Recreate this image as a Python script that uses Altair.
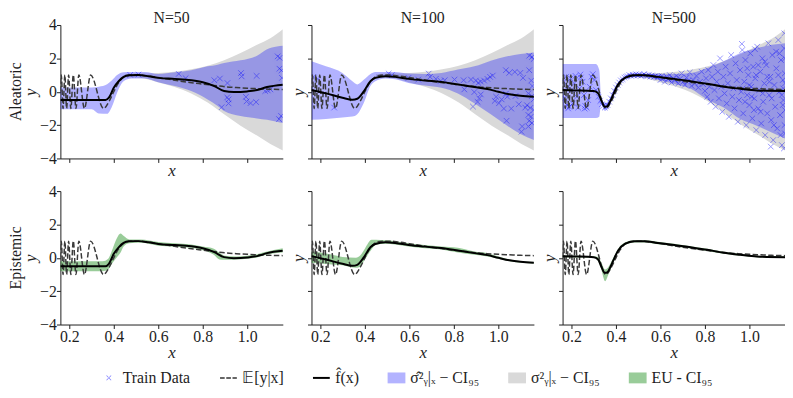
import altair as alt
import pandas as pd

# ---------------- data ----------------
# true regression function E[y|x] (dashed)
true_x = [0.160, 0.164, 0.172, 0.180, 0.188, 0.197, 0.207, 0.218, 0.230, 0.243, 0.268, 0.296, 0.354,
          0.380, 0.400, 0.420, 0.440, 0.460, 0.480, 0.510, 0.550, 0.600, 0.650, 0.700, 0.750, 0.800,
          0.850, 0.900, 0.950, 1.000, 1.050, 1.100, 1.160]
true_y = [0.0, 1.0, -1.0, 1.0, -1.0, 1.0, -1.0, 1.0, -1.0, 1.0, -1.0, 1.0, -1.0,
          -0.55, 0.0, 0.5, 0.82, 0.96, 1.0, 1.0, 0.95, 0.85, 0.74, 0.63, 0.54, 0.46,
          0.38, 0.30, 0.25, 0.21, 0.18, 0.15, 0.13]

# true noise CI (grey), same for every N
grey_x = [0.45, 0.50, 0.55, 0.60, 0.67, 0.748, 0.822, 0.896, 0.97, 1.044, 1.104, 1.16]
grey_lo = [0.85, 0.85, 0.75, 0.55, 0.30, -0.10, -0.65, -1.35, -2.04, -2.63, -3.13, -3.52]
grey_hi = [1.05, 1.10, 1.10, 1.12, 1.20, 1.35, 1.56, 1.88, 2.32, 2.81, 3.20, 3.74]

# fitted mean f_hat(x)
f50_x = [0.16, 0.25, 0.363, 0.378, 0.40, 0.422, 0.444, 0.467, 0.511, 0.556, 0.60, 0.674, 0.748, 0.80,
         0.852, 0.896, 0.94, 1.0, 1.044, 1.089, 1.16]
f50_y = [-0.5, -0.5, -0.5, -0.36, 0.24, 0.63, 0.89, 0.99, 1.0, 0.93, 0.83, 0.77, 0.69, 0.57,
         0.34, 0.04, -0.02, 0.02, 0.1, 0.28, 0.42]
f100_x = [0.16, 0.225, 0.299, 0.344, 0.366, 0.396, 0.425, 0.447, 0.492, 0.536, 0.596, 0.67, 0.744,
          0.818, 0.892, 0.951, 1.0, 1.05, 1.10, 1.16]
f100_y = [0.1, -0.1, -0.36, -0.48, -0.42, 0.04, 0.63, 0.83, 0.93, 0.89, 0.77, 0.67, 0.59,
          0.44, 0.28, 0.16, 0.0, -0.15, -0.24, -0.3]
f500_x = [0.16, 0.218, 0.30, 0.32, 0.335, 0.35, 0.36, 0.375, 0.388, 0.41, 0.44, 0.484, 0.529, 0.588,
          0.662, 0.736, 0.81, 0.884, 0.959, 1.033, 1.16]
f500_y = [0.1, 0.08, 0.04, -0.1, -0.55, -0.9, -0.88, -0.55, -0.16, 0.44, 0.83, 0.99, 0.99, 0.89,
          0.77, 0.63, 0.48, 0.3, 0.18, 0.08, 0.04]

# predicted aleatoric CI (blue)
b50_x = [0.16, 0.30, 0.333, 0.37, 0.393, 0.415, 0.444, 0.48, 0.54, 0.60, 0.674, 0.748, 0.822, 0.867,
         0.896, 0.97, 1.044, 1.089, 1.133, 1.16]
b50_lo = [-1.05, -1.05, -1.3, -1.32, -0.85, -0.06, 0.63, 0.8, 0.8, 0.57, 0.34, 0.04, -0.46, -0.85,
          -1.15, -1.45, -1.6, -1.68, -1.8, -1.88]
b50_hi = [0.25, 0.25, 0.3, 0.45, 0.7, 1.0, 1.17, 1.19, 1.19, 1.07, 1.17, 1.29, 1.52, 1.62,
          1.72, 1.88, 2.16, 2.55, 2.71, 2.75]
b100_x = [0.16, 0.225, 0.299, 0.344, 0.366, 0.396, 0.425, 0.447, 0.492, 0.536, 0.596, 0.67, 0.744,
          0.818, 0.892, 0.966, 1.04, 1.099, 1.16]
b100_lo = [-1.68, -1.64, -1.54, -1.49, -1.35, -0.65, 0.34, 0.63, 0.79, 0.75, 0.53, 0.38, 0.24,
           -0.1, -0.69, -1.35, -2.04, -2.53, -2.9]
b100_hi = [1.82, 1.52, 1.13, 0.63, 0.44, 0.73, 1.07, 1.19, 1.19, 1.19, 1.1, 1.07, 1.13,
           1.33, 1.52, 1.86, 2.12, 2.26, 2.35]
b500_x = [0.16, 0.31, 0.325, 0.333, 0.351, 0.366, 0.388, 0.41, 0.44, 0.484, 0.529, 0.588, 0.662,
          0.736, 0.81, 0.884, 0.959, 1.033, 1.10, 1.16]
b500_lo = [-1.58, -1.58, -1.5, -0.75, -1.15, -0.95, -0.35, 0.3, 0.72, 0.9, 0.9, 0.72, 0.47,
           0.18, -0.46, -0.95, -1.64, -2.04, -2.44, -2.8]
b500_hi = [1.66, 1.66, 1.3, -0.3, -0.68, -0.55, 0.05, 0.58, 0.95, 1.08, 1.08, 1.05, 1.07,
           1.13, 1.43, 1.82, 2.32, 2.61, 2.81, 2.91]

# epistemic CI (green)
g50_x = [0.16, 0.35, 0.375, 0.395, 0.415, 0.43, 0.445, 0.47, 0.52, 0.60, 0.674, 0.748, 0.80, 0.85,
         0.875, 0.90, 0.95, 1.0, 1.044, 1.09, 1.16]
g50_lo = [-0.8, -0.8, -0.7, -0.3, 0.05, 0.3, 0.7, 0.88, 0.9, 0.73, 0.67, 0.6, 0.45, 0.18,
          -0.1, -0.12, -0.1, -0.05, 0.02, 0.2, 0.32]
g50_hi = [-0.2, -0.2, -0.05, 0.55, 1.2, 1.45, 1.3, 1.1, 1.1, 0.95, 0.88, 0.8, 0.68, 0.55,
          0.3, 0.12, 0.08, 0.12, 0.22, 0.38, 0.58]
g100_x = [0.16, 0.25, 0.30, 0.36, 0.38, 0.40, 0.43, 0.45, 0.492, 0.536, 0.596, 0.67, 0.744, 0.818,
          0.892, 0.951, 1.0, 1.05, 1.16]
g100_lo = [-0.3, -0.4, -0.45, -0.6, -0.5, -0.1, 0.5, 0.8, 0.85, 0.8, 0.68, 0.58, 0.5, 0.32,
           0.18, 0.08, -0.05, -0.2, -0.34]
g100_hi = [0.4, 0.2, 0.05, 0.0, 0.15, 0.55, 1.08, 1.08, 1.05, 1.0, 0.88, 0.77, 0.68, 0.6,
           0.38, 0.28, 0.08, -0.1, -0.25]
g500_x = [0.16, 0.30, 0.32, 0.335, 0.351, 0.366, 0.388, 0.41, 0.44, 0.484, 0.529, 0.588, 0.662,
          0.736, 0.81, 0.884, 0.959, 1.033, 1.16]
g500_lo = [0.02, 0.0, -0.2, -0.75, -1.4, -1.0, -0.3, 0.35, 0.75, 0.92, 0.92, 0.82, 0.7,
           0.56, 0.41, 0.24, 0.12, 0.03, -0.01]
g500_hi = [0.14, 0.1, 0.05, -0.3, -0.7, -0.55, 0.0, 0.55, 0.92, 1.05, 1.05, 0.96, 0.84,
           0.7, 0.55, 0.36, 0.24, 0.13, 0.09]

# training data
tr50_x = [0.474, 0.511, 0.692, 0.723, 0.852, 0.877, 0.911, 0.972, 0.975, 1.042, 0.91, 0.916, 0.916,
          0.885, 0.994, 0.997, 1.015, 1.04, 1.137, 1.146, 1.145, 1.154, 1.156, 1.143, 1.152, 1.104,
          1.081, 1.092]
tr50_y = [1.01, 1.03, 1.07, 0.81, 0.69, 0.79, 0.52, 1.12, 0.92, 0.95, -0.34, -0.46, -0.7,
          -0.93, -0.31, -0.58, -0.68, -0.62, 2.12, 2.03, 1.38, 1.28, 0.83, -1.64, -1.45, 0.14,
          0.04, 0.08]
tr100_x = [0.169, 0.188, 0.262, 0.507, 0.521, 0.596, 0.64, 0.687, 0.693, 0.719, 0.741, 0.759, 0.803,
           0.844, 0.847, 0.877, 0.899, 0.91, 0.921, 0.936, 0.951, 0.963, 0.975, 0.892, 0.886,
           0.907, 0.914, 0.984, 0.99, 1.003, 1.015, 1.025, 1.034, 1.04, 1.058, 1.034, 1.049,
           1.074, 1.099, 1.111, 1.139, 1.148, 1.153, 1.135, 1.151, 1.159, 1.129, 1.144, 1.159,
           1.135, 1.147, 1.139, 1.151, 1.135, 1.107, 1.104, 1.037, 1.139, 1.151, 1.159, 1.121,
           1.092, 1.077, 0.921]
tr100_y = [0.89, 0.77, -0.95, 1.09, 0.99, 0.83, 0.73, 1.09, 0.89, 0.77, 0.65, 0.69, 0.73,
           0.69, 0.14, 0.73, 0.67, 0.53, 0.61, 0.67, 0.77, 0.89, 0.97, -0.02, -0.89,
           -0.61, -0.4, -0.55, -0.3, -0.69, -0.46, -1.01, -0.12, -0.3, -1.01, 1.29, 1.13,
           1.19, 1.13, 0.83, 1.29, 0.67, 0.34, -0.1, -0.26, -0.46, -0.81, -0.97, -1.09,
           -1.39, -1.49, -1.74, -1.88, -2.08, -2.08, -2.4, -1.74, 2.16, 2.08, 1.96, -0.95,
           -0.75, -0.26, -0.16]
tr500_x = [0.165, 0.17, 0.176, 0.18, 0.185, 0.186, 0.19, 0.196, 0.2, 0.206, 0.212, 0.218, 0.224, 0.23,
           0.236, 0.24, 0.242, 0.25, 0.256, 0.259, 0.262, 0.268, 0.275, 0.282, 0.29, 0.296, 0.303,
           0.31,
           0.322, 0.33, 0.337, 0.343, 0.35, 0.356, 0.362, 0.37, 0.377, 0.385, 0.392, 0.4, 0.408,
           0.415, 0.422, 0.43, 0.438, 0.445,
           0.452, 0.46, 0.468, 0.475, 0.482, 0.49, 0.498, 0.505, 0.512, 0.52, 0.527, 0.534, 0.54,
           0.548, 0.555, 0.562, 0.57, 0.578, 0.585, 0.592,
           0.6, 0.606, 0.612, 0.62, 0.628, 0.635, 0.642, 0.65, 0.657, 0.665, 0.672, 0.68, 0.688,
           0.695, 0.702, 0.71, 0.718, 0.725, 0.732, 0.74, 0.748, 0.755, 0.762, 0.77, 0.778, 0.785,
           0.792, 0.8,
           0.805, 0.81, 0.815, 0.82, 0.826, 0.832, 0.838, 0.843, 0.848, 0.853, 0.858, 0.863, 0.868,
           0.873, 0.878, 0.883, 0.888, 0.893, 0.898, 0.903, 0.908, 0.913, 0.918, 0.923, 0.928,
           0.933, 0.938, 0.943, 0.948, 0.953, 0.958, 0.963,
           0.968, 0.972, 0.977, 0.982, 0.986, 0.99, 0.995, 1.0, 1.004, 1.008, 1.013, 1.017, 1.022,
           1.026, 1.031, 1.035, 1.04, 1.044, 1.049, 1.053, 1.058, 1.062, 1.067, 1.071, 1.076, 1.08,
           1.085, 1.089, 1.094, 1.098, 1.103, 1.107, 1.112, 1.116, 1.121, 1.125, 1.13, 1.134,
           1.138, 1.142, 1.146, 1.15, 1.153, 1.156, 1.158, 1.159, 1.16, 1.157, 1.155, 1.152,
           0.966, 1.096, 1.025,
           0.97, 0.99, 1.01, 1.03, 1.05, 1.07, 1.09, 1.11, 1.13, 1.15, 1.12, 1.1, 1.08, 1.06, 1.04,
           1.02, 1.0, 0.98, 1.14, 1.16, 1.16, 1.16, 1.135, 1.145]
tr500_y = [0.6, -0.4, 0.9, -0.8, -1.0, 0.3, -0.9, 0.8, 0.1, -0.7, 0.5, 0.95, -0.3, -0.95,
           0.2, 1.03, 0.85, 0.6, -0.2, -1.01, -0.85, -0.95, -0.5, 0.3, 0.9, 1.05, 0.7,
           0.1,
           -0.3, -0.55, -0.75, -0.85, -0.95, -0.88, -0.8, -0.6, -0.4, -0.2, 0.05, 0.25, 0.4,
           0.55, 0.68, 0.75, 0.85, 0.9,
           0.93, 1.0, 0.95, 1.02, 0.97, 1.05, 0.98, 1.03, 0.95, 1.0, 1.06, 0.97, 0.92,
           1.02, 0.9, 0.98, 0.88, 0.95, 0.85, 0.92,
           0.7, 0.95, 0.8, 0.6, 0.9, 0.75, 1.0, 0.55, 0.8, 0.68, 0.95, 0.5, 0.78,
           1.1, 0.6, 0.42, 0.85, 0.65, 1.15, 0.35, 0.7, 0.5, 0.95, 0.25, 0.6, 1.2,
           0.45, 0.05,
           0.8, -0.3, 1.3, 0.3, -0.6, 0.9, 1.6, 0.1, -0.9, 0.6, 1.2, -0.4, 2.0,
           0.3, -1.2, 0.9, -0.1, 1.5, -0.7, 0.5, -1.5, 1.1, 2.2, -0.3, 0.2,
           -1.0, 1.7, 0.7, -1.8, -0.5, 1.3, 0.0,
           2.5, -1.3, 0.6, 1.9, -2.0, -0.2, 1.0, -0.8, 2.3, 0.3, -1.6, 1.5, -0.4,
           0.8, -2.3, 2.7, -1.0, 0.1, 1.2, -1.9, 2.0, -0.6, 0.5, -2.6, 1.6, -1.3,
           2.9, -0.2, 0.9, -1.7, 2.2, -2.9, 0.4, -0.9, 1.4, -2.2, 3.1, 0.0,
           -1.4, 1.9, -3.2, 0.7, -0.5, 2.6, -2.0, 1.1, -1.1, 3.5, -3.4, 0.2,
           2.87, -3.29, 2.55,
           0.2, 1.4, -0.3, 1.0, -1.2, 1.8, 0.6, -2.0, 1.0, -0.8, 2.4, -0.4, 0.9, -0.1, 1.6,
           -1.1, 0.4, -0.6, -2.6, 0.5, 2.0, -2.5, 2.3, -0.2]

n_labels = ["N=50", "N=100", "N=500"]
row_labels = ["Aleatoric", "Epistemic"]
x_ticks = [0.2, 0.4, 0.6, 0.8, 1.0]
y_ticks = [-4, -2, 0, 2, 4]

legend_labels = ["Train Data", "𝔼[y|x]", "f̂(x)", "σ̂²ᵧ|ₓ − CI₉₅", "σ²ᵧ|ₓ − CI₉₅", "EU - CI₉₅"]

fits = {"N=50": (f50_x, f50_y), "N=100": (f100_x, f100_y), "N=500": (f500_x, f500_y)}
blues = {"N=50": (b50_x, b50_lo, b50_hi), "N=100": (b100_x, b100_lo, b100_hi),
         "N=500": (b500_x, b500_lo, b500_hi)}
greens = {"N=50": (g50_x, g50_lo, g50_hi), "N=100": (g100_x, g100_lo, g100_hi),
          "N=500": (g500_x, g500_lo, g500_hi)}
trains = {"N=50": (tr50_x, tr50_y), "N=100": (tr100_x, tr100_y), "N=500": (tr500_x, tr500_y)}

# ---------------- styling ----------------
FONT = "Liberation Serif"
INK = "#1e1e1e"
PW, PH = 225, 135
X_PATH = "M-1,-1L1,1M-1,1L1,-1"
SQ = "M-0.9,-0.55H0.9V0.55H-0.9Z"
LINE = "M-0.85,-0.1H0.85V0.1H-0.85Z"
DASH = ("M-0.85,-0.08H-0.38V0.08H-0.85Z M-0.22,-0.08H0.25V0.08H-0.22Z "
        "M0.41,-0.08H0.85V0.08H0.41Z")
XM = ("M-0.26,-0.21L-0.21,-0.26L0.26,0.21L0.21,0.26Z "
      "M0.26,-0.21L0.21,-0.26L-0.26,0.21L-0.21,0.26Z")
legend_colors = ["#7f7fff", "#333333", "#000000", "#b3b3ff", "#d9d9d9", "#99cc99"]
legend_shapes = [XM, DASH, LINE, SQ, SQ, SQ]

xscale = alt.Scale(domain=[0.16, 1.16], nice=False, zero=False)
yscale = alt.Scale(domain=[-4, 4], nice=False)


def panel(n, row, col):
    xa = alt.Axis(values=x_ticks, format=".1f", labels=(row == 1), title="x")
    ya = alt.Axis(values=y_ticks, format="d", labels=(col == 0), title="y")

    def X(f="x"):
        return alt.X(f"{f}:Q", scale=xscale, axis=xa)

    def Y(f="y"):
        return alt.Y(f"{f}:Q", scale=yscale, axis=ya)

    layers = []
    if row == 0:
        gdf = pd.DataFrame({"x": grey_x, "lo": grey_lo, "hi": grey_hi})
        layers.append(alt.Chart(gdf).mark_area(color="#d9d9d9", opacity=1, clip=True,
                                               interpolate="monotone")
                      .encode(x=X(), y=Y("lo"), y2="hi:Q"))
        bx, blo, bhi = blues[n]
        bdf = pd.DataFrame({"x": bx, "lo": blo, "hi": bhi})
        layers.append(alt.Chart(bdf).mark_area(color="#0000ff", opacity=0.3, clip=True,
                                               interpolate="monotone")
                      .encode(x=X(), y=Y("lo"), y2="hi:Q"))
        tx, ty = trains[n]
        tdf = pd.DataFrame({"x": tx, "y": ty})
        layers.append(alt.Chart(tdf).mark_point(shape=X_PATH, filled=False, size=32,
                                                strokeWidth=1, color="#0000ff", opacity=0.4,
                                                clip=True)
                      .encode(x=X(), y=Y()))
    else:
        gx, glo, ghi = greens[n]
        edf = pd.DataFrame({"x": gx, "lo": glo, "hi": ghi})
        layers.append(alt.Chart(edf).mark_area(color="#008000", opacity=0.4, clip=True,
                                               interpolate="monotone")
                      .encode(x=X(), y=Y("lo"), y2="hi:Q"))
    ddf = pd.DataFrame({"x": true_x, "y": true_y})
    layers.append(alt.Chart(ddf).mark_line(color="#3a3a3a", strokeWidth=1.5, strokeDash=[5.5, 2.4],
                                           clip=True, interpolate="monotone")
                  .encode(x=X(), y=Y()))
    fx, fy = fits[n]
    fdf = pd.DataFrame({"x": fx, "y": fy})
    layers.append(alt.Chart(fdf).mark_line(color="#000000", strokeWidth=2, clip=True,
                                           interpolate="monotone")
                  .encode(x=X(), y=Y()))
    if col == 0:
        rdf = pd.DataFrame({"t": [row_labels[row]]})
        layers.append(alt.Chart(rdf).mark_text(angle=270, font=FONT, fontSize=16, color=INK,
                                               baseline="middle", align="center")
                      .encode(text="t:N", x=alt.value(-45), y=alt.value(PH / 2)))
    if row == 0:
        tdf2 = pd.DataFrame({"t": [n]})
        layers.append(alt.Chart(tdf2).mark_text(font=FONT, fontSize=16, color=INK,
                                                baseline="alphabetic", align="center")
                      .encode(text="t:N", x=alt.value(PW / 2), y=alt.value(-2)))
    if row == 0 and col == 0:
        ldf = pd.DataFrame({"item": legend_labels})
        leg = alt.Legend(title=None, orient="none", legendX=39, legendY=347,
                         direction="horizontal", columns=6,
                         labelFont=FONT, labelFontSize=16, labelColor=INK,
                         symbolSize=400, symbolStrokeWidth=0, symbolOpacity=1,
                         columnPadding=28, labelOffset=4)
        layers.append(alt.Chart(ldf).mark_point(filled=True, opacity=1, clip=True)
                      .encode(x=alt.value(-3000), y=alt.value(-3000),
                              color=alt.Color("item:N", scale=alt.Scale(domain=legend_labels,
                                                                        range=legend_colors),
                                              legend=leg),
                              shape=alt.Shape("item:N", scale=alt.Scale(domain=legend_labels,
                                                                        range=legend_shapes),
                                              legend=leg)))
    return alt.layer(*layers).properties(width=PW, height=PH)


rows = []
for r in range(2):
    rows.append(alt.hconcat(*[panel(n, r, c) for c, n in enumerate(n_labels)], spacing=6))

chart = (alt.vconcat(*rows, spacing=4)
         .properties(padding=0)
         .configure_view(stroke=None)
         .configure_axis(grid=False, domainColor=INK, tickColor=INK, labelColor=INK,
                         titleColor=INK, labelFont=FONT, titleFont=FONT, labelFontSize=16,
                         titleFontSize=17, titleFontStyle="italic", titleFontWeight="normal",
                         tickSize=4, labelPadding=0, titlePadding=0, domainWidth=1, tickWidth=1)
         )

chart.save("out.html", embed_options={"renderer": "svg", "actions": False})
